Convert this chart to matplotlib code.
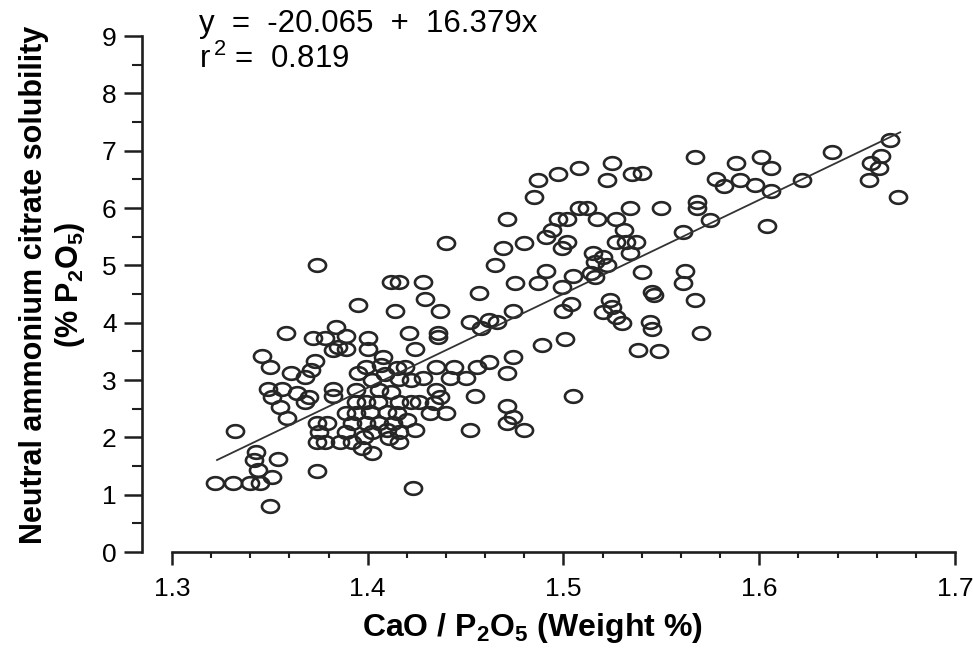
import numpy as np
import matplotlib
matplotlib.use("Agg")
import matplotlib.pyplot as plt
from matplotlib.path import Path
from matplotlib.ticker import FixedLocator, MultipleLocator, FormatStrFormatter

plt.rcParams['font.family'] = ['Liberation Sans', 'DejaVu Sans']
plt.rcParams['mathtext.fontset'] = 'custom'
plt.rcParams['mathtext.rm'] = 'Liberation Sans'
plt.rcParams['mathtext.bf'] = 'Liberation Sans:bold'

# CaO / P2O5 ratio (weight %) of each sample
cao_p2o5 = [
    1.567, 1.588, 1.601, 1.606, 1.637, 1.667, 1.662, 1.657, 1.661, 1.656,
    1.671, 1.578, 1.582, 1.590, 1.598, 1.606, 1.622, 1.568, 1.568, 1.575,
    1.561, 1.604, 1.562, 1.561, 1.567, 1.570, 1.540, 1.550, 1.540, 1.545,
    1.546, 1.544, 1.545, 1.538, 1.549,
    1.525, 1.508, 1.497, 1.487, 1.522, 1.535, 1.485, 1.508, 1.512, 1.534,
    1.471, 1.497, 1.502, 1.517, 1.527, 1.494, 1.491, 1.502, 1.499, 1.531,
    1.527, 1.532, 1.537, 1.440, 1.469, 1.480, 1.534, 1.515, 1.520, 1.516,
    1.522, 1.465, 1.491, 1.475, 1.487, 1.505, 1.514, 1.516, 1.499, 1.457,
    1.504, 1.500, 1.524, 1.525, 1.520, 1.527, 1.530, 1.437, 1.474, 1.452,
    1.462, 1.466, 1.458, 1.489, 1.501, 1.456, 1.462, 1.474, 1.471, 1.455,
    1.505, 1.471, 1.474, 1.471, 1.480, 1.452,
    1.374, 1.412, 1.416, 1.428, 1.395, 1.414, 1.429, 1.358, 1.384, 1.372,
    1.378, 1.389, 1.385, 1.382, 1.389, 1.400, 1.400, 1.421, 1.436, 1.436,
    1.424, 1.346, 1.350, 1.373, 1.371, 1.368, 1.361, 1.408, 1.407, 1.399,
    1.409, 1.415, 1.419, 1.435, 1.444, 1.428, 1.442, 1.450, 1.395, 1.402,
    1.416, 1.422, 1.349, 1.356, 1.351, 1.364, 1.370, 1.368, 1.382, 1.382,
    1.394, 1.394, 1.399, 1.405, 1.406, 1.412, 1.416, 1.422, 1.426, 1.435,
    1.437, 1.434, 1.440, 1.432, 1.355, 1.359, 1.374, 1.379, 1.389, 1.394,
    1.401, 1.410, 1.415, 1.420, 1.392, 1.399, 1.406, 1.413, 1.375, 1.389,
    1.402, 1.410, 1.416, 1.424, 1.374, 1.378, 1.386, 1.392, 1.398, 1.411,
    1.416, 1.397, 1.402, 1.332, 1.343, 1.342, 1.354, 1.344, 1.351, 1.374,
    1.322, 1.331, 1.340, 1.345, 1.350, 1.423,
]

# neutral ammonium citrate solubility (% P2O5), same order
nac_sol = [
    6.89, 6.79, 6.89, 6.70, 6.98, 7.19, 6.91, 6.79, 6.70, 6.49,
    6.20, 6.51, 6.39, 6.49, 6.40, 6.30, 6.49, 6.11, 6.00, 5.79,
    5.58, 5.69, 4.90, 4.69, 4.40, 3.82, 6.61, 6.00, 4.89, 4.54,
    4.49, 4.01, 3.89, 3.53, 3.51,
    6.79, 6.70, 6.60, 6.49, 6.49, 6.60, 6.20, 6.00, 6.00, 6.00,
    5.81, 5.81, 5.81, 5.81, 5.81, 5.62, 5.50, 5.41, 5.31, 5.62,
    5.41, 5.41, 5.41, 5.39, 5.31, 5.39, 5.22, 5.22, 5.15, 5.06,
    5.01, 5.01, 4.90, 4.69, 4.69, 4.82, 4.87, 4.80, 4.62, 4.52,
    4.33, 4.21, 4.40, 4.28, 4.19, 4.10, 4.00, 4.21, 4.21, 4.01,
    4.05, 4.01, 3.91, 3.61, 3.72, 3.23, 3.32, 3.40, 3.12, 2.72,
    2.72, 2.55, 2.36, 2.25, 2.13, 2.13,
    5.01, 4.71, 4.71, 4.71, 4.31, 4.21, 4.42, 3.82, 3.93, 3.73,
    3.73, 3.77, 3.58, 3.53, 3.54, 3.73, 3.54, 3.82, 3.82, 3.75,
    3.54, 3.42, 3.23, 3.33, 3.18, 3.05, 3.12, 3.40, 3.26, 3.23,
    3.11, 3.21, 3.23, 3.23, 3.23, 3.04, 3.04, 3.04, 3.12, 3.00,
    3.02, 3.00, 2.84, 2.84, 2.71, 2.77, 2.71, 2.62, 2.84, 2.72,
    2.83, 2.62, 2.62, 2.62, 2.83, 2.79, 2.62, 2.62, 2.62, 2.83,
    2.71, 2.60, 2.43, 2.43, 2.53, 2.34, 2.25, 2.25, 2.43, 2.43,
    2.44, 2.44, 2.43, 2.30, 2.25, 2.25, 2.25, 2.25, 2.09, 2.09,
    2.09, 2.13, 2.09, 2.13, 1.92, 1.92, 1.92, 1.92, 2.01, 1.99,
    1.92, 1.82, 1.73, 2.11, 1.75, 1.61, 1.62, 1.43, 1.31, 1.41,
    1.20, 1.20, 1.20, 1.20, 0.80, 1.12,
]

# regression given on the chart
intercept = -20.065
slope = 16.379
r_squared = 0.819
fit_range = [1.323, 1.672]

x_ticks = [1.3, 1.4, 1.5, 1.6, 1.7]
y_ticks = [0, 1, 2, 3, 4, 5, 6, 7, 8, 9]

W, H = 973, 653
fig = plt.figure(figsize=(W / 100, H / 100), dpi=100)
ax = fig.add_axes([141.7 / W, 101 / H, (955 - 141.7) / W, 516 / H])

# open ellipses, a bit wider than tall like the original
t = np.linspace(0, 2 * np.pi, 41)
ell = Path(np.column_stack([np.cos(t), 0.74 * np.sin(t)]), closed=True)
ax.plot(cao_p2o5, nac_sol, ls='none', marker=ell, ms=12.3, mfc='none',
        mec='#262626', mew=1.9)

fx = np.array(fit_range)
ax.plot(fx, intercept + slope * fx, color='#333333', lw=1.3)

ax.set_xlim(1.3 - 30.3 / 1957.5, 1.7)
ax.set_ylim(0, 9)

for s in ['top', 'right']:
    ax.spines[s].set_visible(False)
ax.spines['left'].set_bounds(0, 9)
ax.spines['bottom'].set_bounds(1.3, 1.7)
for s in ['left', 'bottom']:
    ax.spines[s].set_linewidth(1.9)
    ax.spines[s].set_color('#1e1e1e')

ax.xaxis.set_major_locator(FixedLocator(x_ticks))
ax.xaxis.set_minor_locator(MultipleLocator(0.02))
ax.yaxis.set_major_locator(FixedLocator(y_ticks))
ax.yaxis.set_minor_locator(MultipleLocator(0.5))
ax.xaxis.set_major_formatter(FormatStrFormatter('%.1f'))
ax.yaxis.set_major_formatter(FormatStrFormatter('%d'))

ax.tick_params(axis='x', which='major', length=9, width=1.8, pad=9,
               labelsize=19, color='#1e1e1e')
ax.tick_params(axis='x', which='minor', length=4.5, width=1.5, color='#1e1e1e')
ax.tick_params(axis='y', which='major', length=13, width=1.8, pad=5,
               labelsize=19, color='#1e1e1e')
ax.tick_params(axis='y', which='minor', length=7, width=1.5, color='#1e1e1e')


def px(x, y):
    return x / W, 1 - y / H


# equation and r2 at the top
fs = 22.5
fig.text(*px(199, 32), 'y  =  %.3f  +  %.3fx' % (intercept, slope),
         fontsize=fs, va='baseline')
fig.text(*px(199, 68), 'r$^{\\,2}$ =  %.3f' % r_squared, fontsize=fs,
         va='baseline')

fig.text(*px(53, 285),
         'Neutral ammonium citrate solubility\n(% P$_\\mathbf{2}$O$_\\mathbf{5}$)',
         rotation=90, ha='center', va='center', multialignment='center',
         fontsize=22, fontweight='bold', linespacing=1.15)
fig.text(*px(532, 628), 'CaO / P$_\\mathbf{2}$O$_\\mathbf{5}$ (Weight %)',
         ha='center', va='center', fontsize=23, fontweight='bold')

fig.savefig('out.png', dpi=100)
